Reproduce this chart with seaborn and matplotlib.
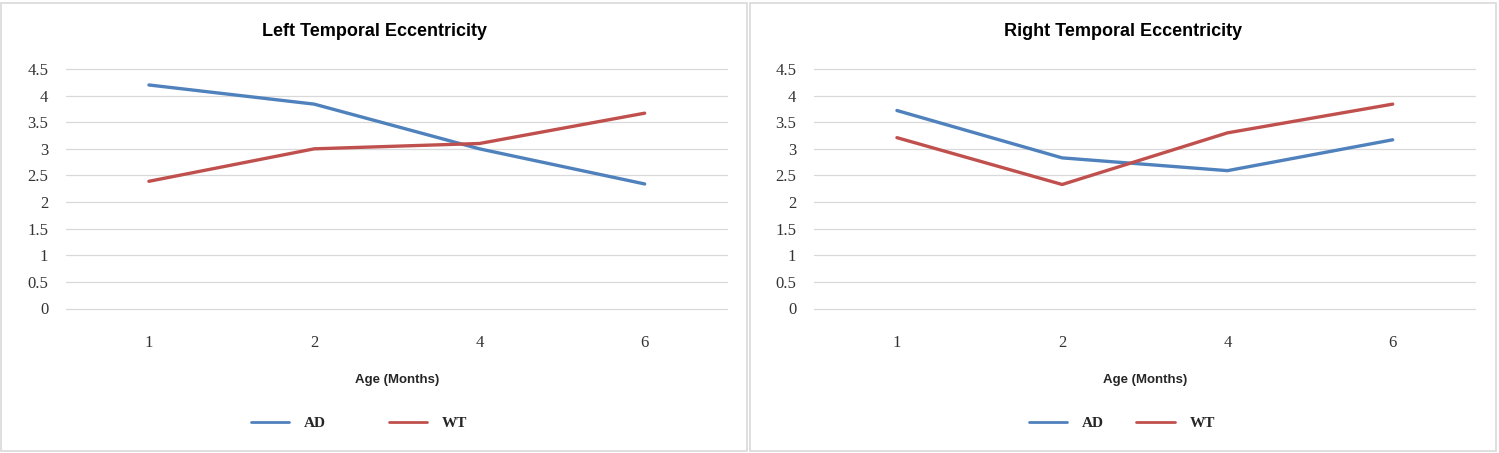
import pandas as pd
import matplotlib
matplotlib.use("Agg")
import matplotlib.pyplot as plt
import seaborn as sns
from matplotlib.patches import Rectangle

ages = ["1", "2", "4", "6"]
groups = ["AD", "WT"]

left_ad = [4.2, 3.84, 3.0, 2.34]
left_wt = [2.39, 3.0, 3.1, 3.67]
right_ad = [3.72, 2.83, 2.59, 3.17]
right_wt = [3.21, 2.33, 3.3, 3.84]

titles = ["Left Temporal Eccentricity", "Right Temporal Eccentricity"]
y_ticks = [0, 0.5, 1, 1.5, 2, 2.5, 3, 3.5, 4, 4.5]
y_tick_labels = ["0", "0.5", "1", "1.5", "2", "2.5", "3", "3.5", "4", "4.5"]

palette = {"AD": "#4F81BD", "WT": "#C0504D"}


def make_df(ad, wt):
    return pd.DataFrame({
        "age": ages * 2,
        "value": ad + wt,
        "group": ["AD"] * len(ages) + ["WT"] * len(ages),
    })


sns.set_theme(style="white")
plt.rcParams["font.family"] = ["Liberation Serif", "DejaVu Serif"]
title_font = ["Liberation Sans Narrow", "Liberation Sans", "DejaVu Sans"]

W, H = 1499, 453
fig = plt.figure(figsize=(W / 100, H / 100), dpi=100)

# panel frames
fig.patches.append(Rectangle((1 / W, 2 / H), 746 / W, 448 / H, transform=fig.transFigure,
                             fill=False, edgecolor="#d9d9d9", linewidth=1.2))
fig.patches.append(Rectangle((750 / W, 2 / H), 746 / W, 448 / H, transform=fig.transFigure,
                             fill=False, edgecolor="#d9d9d9", linewidth=1.2))

panels = [
    dict(df=make_df(left_ad, left_wt), x0=66.3, x1=727.3, cx=374, leg_cx=359, colsp=4.1),
    dict(df=make_df(right_ad, right_wt), x0=814.3, x1=1475.3, cx=1123, leg_cx=1122, colsp=2.1),
]

for p, title in zip(panels, titles):
    ax = fig.add_axes([p["x0"] / W, (H - 308.5) / H, (p["x1"] - p["x0"]) / W, 239.5 / H])
    sns.lineplot(data=p["df"], x="age", y="value", hue="group", palette=palette,
                 sort=False, linewidth=2.4, ax=ax, legend=False)
    ax.set_xlim(-0.5, 3.5)
    ax.set_ylim(0, 4.5)
    ax.set_yticks(y_ticks)
    ax.set_yticklabels(y_tick_labels)
    ax.yaxis.grid(True, color="#d9d9d9", linewidth=0.9)
    for gl in ax.get_ygridlines():
        gl.set_clip_on(False)
    ax.set_axisbelow(True)
    for s in ax.spines.values():
        s.set_visible(False)
    ax.tick_params(axis="y", length=0, pad=13, labelsize=12, labelcolor="#333333")
    ax.tick_params(axis="x", length=0, pad=19, labelsize=12, labelcolor="#333333")
    ax.set_ylabel("")
    ax.set_xlabel("Age (Months)", fontsize=9.5, fontweight="bold", family=title_font,
                  color="#262626", labelpad=17)
    fig.text(p["cx"] / W, 1 - 32 / H, title, ha="center", va="center",
             fontsize=13, fontweight="bold", family=title_font, color="black")

    handles = [plt.Line2D([], [], color=palette[g], linewidth=2.0) for g in groups]
    fig.legend(handles, groups, loc="center", bbox_to_anchor=(p["leg_cx"] / W, 1 - 423 / H),
               ncol=2, frameon=False, handlelength=2.5, handletextpad=1.0,
               columnspacing=p["colsp"], prop={"weight": "bold", "size": 11})

fig.savefig("out.png", dpi=100, facecolor="white")
